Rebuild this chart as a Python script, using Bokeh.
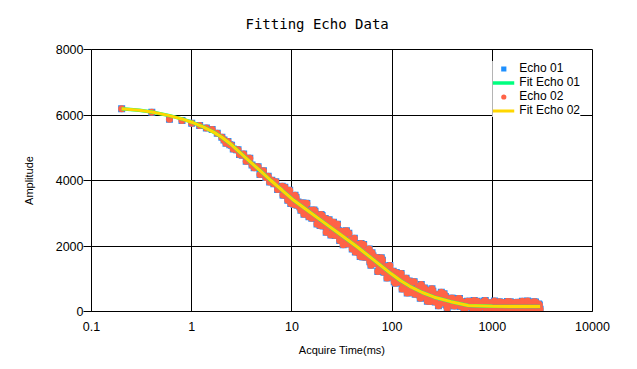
from bokeh.plotting import figure
from bokeh.models import Range1d, FixedTicker, Legend, LegendItem, ColumnDataSource, Title
from bokeh.embed import file_html
from bokeh.resources import INLINE

# ---- data ----
echo_time = [0.2, 0.4, 0.6, 0.8, 1.0, 1.2, 1.4, 1.6, 1.8, 2.0,
             2.1, 2.2, 2.3, 2.4, 2.5, 2.6, 2.8, 2.9, 3.0, 3.2, 3.3, 3.5, 3.6, 3.8,
             4.0, 4.2, 4.4, 4.6, 4.8, 5.0, 5.2, 5.5, 5.8, 6.0, 6.3, 6.6, 6.9, 7.2, 7.6,
             8.0, 8.3, 8.7, 9.1, 9.5, 10, 10.5, 11, 11.5, 12, 12.6, 13.2, 13.8, 14.5,
             15.1, 15.8, 16.6, 17.4, 18.2, 19.1,
             20, 21, 22, 23, 24, 25, 26, 28, 29, 30, 32, 33, 35, 36, 38, 40, 42, 44,
             46, 48, 50, 52, 55, 58, 60, 63, 66, 69, 72, 76, 80, 83, 87, 91, 95,
             100, 105, 110, 115, 120, 126, 132, 138, 145,
             151, 158, 166, 174, 182, 191, 200, 210, 220, 230, 240, 250, 260, 280,
             290, 300, 320, 330, 350, 360,
             380, 400, 420, 440, 460, 480, 500, 520, 550, 580, 600, 630, 660, 690,
             720, 760, 800, 830, 870, 910, 950, 1000, 1050, 1100, 1150, 1200, 1260,
             1320, 1380, 1450, 1510, 1580, 1660, 1740, 1820, 1910, 2000, 2100, 2200,
             2300, 2400, 2500, 2600, 2800, 2900, 3000,
             8.15, 8.5, 8.9, 9.3, 9.75, 10.25, 10.75, 11.25, 11.75, 12.3, 12.9, 13.5,
             14.1, 14.8, 15.45, 16.2, 17.0, 17.8, 18.65, 19.55,
             20.5, 21.5, 22.5, 23.5, 24.5, 25.5, 27, 28.5, 29.5, 31, 32.5, 34, 35.5,
             37, 39, 41, 43, 45, 47, 49, 51, 53.5, 56.5, 59, 61.5, 64.5, 67.5, 70.5,
             74, 78, 81.5, 85, 89, 93, 97.5,
             102.5, 107.5, 112.5, 117.5, 123, 129, 135, 141.5, 148,
             154.5, 162, 170, 178, 186.5, 195.5, 205, 215, 225, 235, 245, 255, 270,
             285, 295, 310, 325, 340, 355, 370,
             390, 410, 430, 450, 470, 490, 510, 535, 565, 590, 615, 645, 675, 705,
             740, 780, 815, 850, 890, 930, 975, 1025, 1075, 1125, 1175, 1230, 1290,
             1350, 1415, 1480, 1545, 1620, 1700, 1780, 1865, 1955, 2050, 2150, 2250,
             2350, 2450, 2550, 2700, 2850, 2950]

echo_01 = [6190, 6085, 5870, 5830, 5750, 5680, 5600, 5560, 5440, 5320,
           5236, 5138, 5188, 5088, 5078, 4963, 4936, 4942, 4794, 4771, 4806, 4585, 4680, 4680,
           4476, 4387, 4420, 4420, 4180, 4242, 4296, 4088, 4126, 3955, 4009, 3901, 3960, 3724, 3772,
           3822, 3559, 3685, 3394, 3704, 3425, 3269, 3484, 3340, 3199, 3311, 2966, 3302, 2994,
           3034, 2850, 3102, 2856, 2912, 2625,
           2935, 2662, 2417, 2749, 2607, 2393, 2729, 2357, 2473, 2165, 2452, 2247, 2465, 2062, 2185, 1910, 2237, 1917,
           1947, 1677, 1959, 2043, 1658, 1728, 1517, 1791, 1517, 1595, 1225, 1543, 1564, 1200, 1325, 1153, 1408,
           1105, 908, 1189, 896, 1030, 688, 900, 1014, 748,
           811, 575, 910, 626, 757, 403, 649, 716, 416, 531, 302, 695, 376, 508,
           173, 529, 345, 541, 197, 371,
           270, 408, 170, 296, 395, 159, 301, 94, 260, 176, 315, 116, 338, 182,
           82, 261, 146, 312, 44, 210, 264, 108, 318, 149, 51, 232, 274,
           77, 189, 118, 300, 61, 243, 158, 284, 88, 311, 129, 199,
           44, 254, 100, 296, 156, 226, 72,
           3560, 3792, 3540, 3629, 3294, 3477, 3546, 3242, 3300, 3095, 3308, 3124,
           3298, 2894, 3092, 2906, 3059, 2674, 2868, 2962,
           2611, 2840, 2570, 2803, 2337, 2573, 2318, 2665, 2331, 2433, 2037, 2418, 2101,
           2386, 2085, 2186, 1814, 2045, 1799, 2080, 1663, 1813, 1680, 1910, 1416, 1691, 1468, 1647,
           1296, 1641, 1294, 1375, 1026, 1380, 1056,
           1231, 861, 1067, 950, 1159, 744, 957, 568, 932,
           681, 904, 527, 703, 511, 825, 521, 658, 313, 635, 453, 616, 292,
           479, 213, 587, 270, 461, 100, 339,
           408, 183, 334, 246, 398, 176, 255, 76, 315, 158, 277, 64, 227, 315,
           102, 250, 157, 335, 78, 226, 119, 268, 43, 192, 296, 101, 250,
           130, 309, 54, 203, 158, 277, 82, 232, 21, 261, 141, 320,
           65, 215, 110, 290, 95, 200]

echo_02 = list(echo_01)  # Echo 02 coincides with Echo 01 in the picture

fit_time = [0.2, 0.3, 0.4, 0.6, 0.8, 1.0, 1.3, 1.67, 2.0, 2.5, 3.33, 4.0, 5.0, 6.17,
            8.0, 10.5, 14, 20, 30, 45, 65, 98, 122, 150, 200, 264, 386, 575,
            1000, 2000, 3000]
fit_01 = [6190, 6145, 6090, 5980, 5880, 5780, 5640, 5470, 5320, 5090, 4740, 4520, 4255, 4000,
          3702, 3389, 3108, 2760, 2365, 1970, 1583, 1150, 940, 770, 580, 437, 300, 185,
          158, 152, 150]
fit_02 = [6190, 6145, 6090, 5980, 5880, 5780, 5640, 5470, 5320, 5090, 4740, 4520, 4255, 4000,
          3702, 3389, 3108, 2760, 2365, 1970, 1583, 1150, 940, 770, 580, 437, 300, 185,
          158, 152, 150]

x_ticks = [0.1, 1, 10, 100, 1000, 10000]
x_tick_labels = ["0.1", "1", "10", "100", "1000", "10000"]
y_ticks = [0, 2000, 4000, 6000, 8000]

# ---- figure ----
p = figure(width=629, height=361, x_axis_type="log", output_backend="svg",
           toolbar_location=None, title=None,
           x_range=Range1d(0.1, 10000), y_range=Range1d(0, 8000),
           min_border_left=91, min_border_right=37, min_border_top=49,
           min_border_bottom=50)
p.background_fill_color = "white"
p.border_fill_color = "white"
p.outline_line_color = "black"

title = Title(text="Fitting Echo Data", align="left", offset=154,
              vertical_align="top",
              text_font="DejaVu Sans Mono", text_font_size="14px",
              text_font_style="normal", text_color="black", standoff=31)
p.add_layout(title, "above")

p.xaxis.ticker = FixedTicker(ticks=x_ticks)
p.xaxis.major_label_overrides = {t: l for t, l in zip(x_ticks, x_tick_labels)}
p.yaxis.ticker = FixedTicker(ticks=y_ticks)

for ax in (p.xaxis[0], p.yaxis[0]):
    ax.axis_line_color = "black"
    ax.major_tick_line_color = "black"
    ax.minor_tick_line_color = None
    ax.major_tick_in = 0
    ax.major_label_text_font = "Liberation Sans"
    ax.major_label_text_font_size = "12.5px"
    ax.major_label_text_color = "black"
    ax.axis_label_text_font = "Liberation Sans"
    ax.axis_label_text_font_size = "11px"
    ax.axis_label_text_font_style = "normal"
    ax.axis_label_text_color = "black"

p.xaxis.axis_label = "Acquire Time(ms)"
p.yaxis.axis_label = "Amplitude"
p.xaxis.major_tick_out = 0
p.xaxis.major_label_standoff = 10
p.xaxis.axis_label_standoff = 10
p.yaxis.major_tick_out = 8
p.yaxis.major_label_standoff = 0
p.yaxis.axis_label_standoff = 18

p.xgrid.ticker = FixedTicker(ticks=x_ticks)
p.ygrid.ticker = FixedTicker(ticks=y_ticks)
for g in (p.xgrid[0], p.ygrid[0]):
    g.grid_line_color = "black"
    g.grid_line_width = 1
    g.grid_line_alpha = 1.0

src = ColumnDataSource(dict(t=echo_time, e1=echo_01, e2=echo_02))
fsrc = ColumnDataSource(dict(t=fit_time, f1=fit_01, f2=fit_02))

r_e1 = p.scatter("t", "e1", source=src, marker="square", size=7,
                 fill_color="#1E90FF", line_color=None)
r_e2 = p.scatter("t", "e2", source=src, marker="circle", size=7,
                 fill_color="#FF6347", line_color=None)
r_f1 = p.line("t", "f1", source=fsrc, line_color="#00FF7F", line_width=3.5)
r_f2 = p.line("t", "f2", source=fsrc, line_color="#FFD700", line_width=3)

legend = Legend(items=[LegendItem(label="Echo 01", renderers=[r_e1]),
                       LegendItem(label="Fit Echo 01", renderers=[r_f1]),
                       LegendItem(label="Echo 02", renderers=[r_e2]),
                       LegendItem(label="Fit Echo 02", renderers=[r_f2])],
                location="top_right")
legend.background_fill_color = "white"
legend.background_fill_alpha = 1.0
legend.border_line_color = None
legend.label_text_font = "Liberation Sans"
legend.label_text_font_size = "12px"
legend.label_text_color = "black"
legend.glyph_width = 22
legend.glyph_height = 13
legend.label_height = 13
legend.label_standoff = 5
legend.spacing = -2
legend.padding = 8
legend.margin = 12
p.add_layout(legend)

open("out.html", "w").write(file_html(p, INLINE))
